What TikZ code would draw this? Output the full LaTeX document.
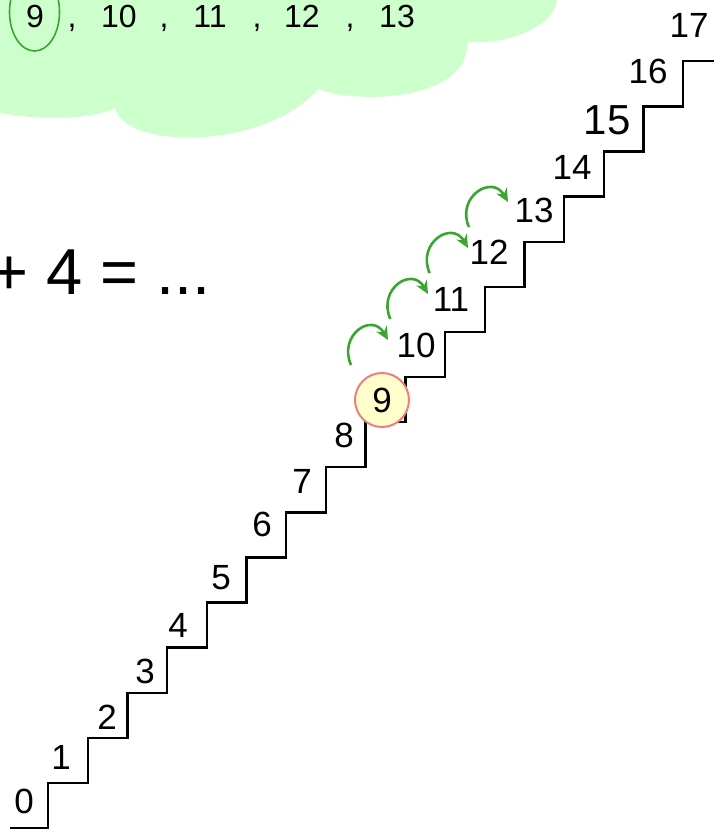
\documentclass[tikz,border=0pt]{standalone}
\usepackage{fontspec}
\setmainfont{Liberation Sans}
\usepackage{tikz}
\usetikzlibrary{arrows.meta}
\usepackage{xcolor}
\definecolor{cloudgreen}{RGB}{204,255,204}
\definecolor{hopgreen}{RGB}{58,166,50}
\definecolor{ringred}{RGB}{240,125,125}
\definecolor{ringfill}{RGB}{255,255,204}

\begin{document}
\begin{tikzpicture}[x=1pt,y=-1pt,
  num/.style={inner sep=0pt, font=\fontsize{35}{40}\selectfont},
  seq/.style={inner sep=0pt, anchor=base, font=\fontsize{32}{36}\selectfont},
  hop/.style={hopgreen, line width=2.6pt, -{Stealth[length=13pt,width=12pt]}}]
\useasboundingbox (0,0) rectangle (713,829);
% cloud
\fill[cloudgreen] (0,0) -- (557,0) .. controls (555,25) and (510,45) .. (467,42)
  .. controls (470,100) and (360,105) .. (318,89)
  .. controls (265,150) and (125,150) .. (115,108)
  .. controls (90,120) and (40,120) .. (0,113) -- cycle;
\foreach \n/\x in {9/35,10/119,11/210,12/302,13/397}
  \node[seq] (s\n) at (\x,28) {\n};
\foreach \x [count=\c] in {72,164,257,350}
  \node[seq] (comma\c) at (\x,28) {,};
\draw[hopgreen, line width=1.6pt] (34.5,12) ellipse [x radius=25, y radius=39];
\node[anchor=base west, inner sep=0pt, font=\fontsize{65}{70}\selectfont] (sum) at (-10,294) {+ 4 = ...};
% stairs
\draw[line width=2.4pt] (10,828) -- (48,828)
  \foreach \k in {1,...,17}{ -- ++(0,-45.1) -- ++(39.7,0)};
\foreach \k/\x/\y in {0/24/801,1/61/757,2/107/717,3/145/671,4/178/625,5/221/578,
  6/262/524,7/302/481,8/344/435,10/416/345,11/451/299,12/489/252,13/534/210,
  14/572/167,16/648/71,17/689/25}
  \node[num] (n\k) at (\x,\y) {\k};
\node[num, font=\fontsize{42}{46}\selectfont] (n15) at (607,120) {15};
\node[num, circle, draw=ringred, fill=ringfill, line width=2pt, minimum size=54pt] (n9) at (382,400) {9};
% hops
\foreach \i in {0,...,3}{
  \coordinate (hs\i) at (351+39.3*\i, 365-46*\i);
  \coordinate (he\i) at (388+40*\i, 340-46*\i);
  \draw[hop] (hs\i) .. controls +(-13,-30) and +(-16,-28) .. (he\i);
}
\end{tikzpicture}
\end{document}
